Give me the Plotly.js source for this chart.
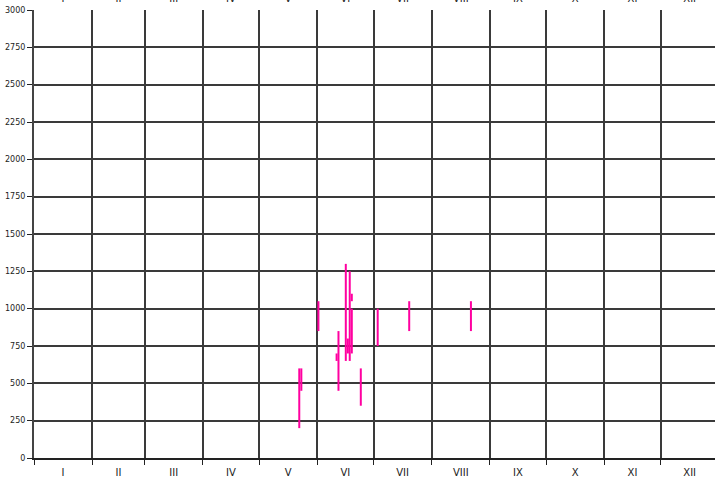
<!DOCTYPE html>
<html>
<head>
<meta charset="utf-8">
<script src="https://cdn.plot.ly/plotly-3.0.1.min.js"></script>
<style>html,body{margin:0;padding:0;background:#fff;}#chart{width:715px;height:481px;}</style>
</head>
<body>
<div id="chart"></div>
<script>
// Month boundaries (day of year, Jan 1 = 0) and labels
var monthStarts = [0, 31, 59, 90, 120, 151, 181, 212, 243, 273, 304, 334];
var monthMids = [15.5, 45, 74.5, 105, 135.5, 166, 196.5, 227.5, 258, 288.5, 319, 349.5];
var monthLabels = ["I", "II", "III", "IV", "V", "VI", "VII", "VIII", "IX", "X", "XI", "XII"];
var yTicks = [0, 250, 500, 750, 1000, 1250, 1500, 1750, 2000, 2250, 2500, 2750, 3000];

// Observation ranges: day of year, lower and upper elevation (m)
var obsDay  = [141.4, 142.5, 151.6, 161.3, 162.3, 166.2, 167.3, 168.3, 169.4, 169.4, 174.2, 183.2, 200.0, 232.9];
var obsLow  = [200,   450,   850,   650,   450,   650,   700,   650,   700,   1050,  350,   750,   850,   850];
var obsHigh = [600,   600,   1050,  700,   850,   1300,  800,   1250,  1000,  1100,  600,   1000,  1050,  1050];

var xs = [], ys = [];
for (var i = 0; i < obsDay.length; i++) {
  xs.push(obsDay[i], obsDay[i], null);
  ys.push(obsLow[i], obsHigh[i], null);
}

var xRange = [0, 363];
var data = [
  {x: xs, y: ys, type: 'scatter', mode: 'lines', line: {color: '#ff00a0', width: 2}, hoverinfo: 'skip', showlegend: false},
  {x: [null], y: [null], xaxis: 'x2', type: 'scatter', mode: 'markers', showlegend: false, hoverinfo: 'skip'},
  {x: [null], y: [null], xaxis: 'x3', type: 'scatter', mode: 'markers', showlegend: false, hoverinfo: 'skip'}
];

var layout = {
  width: 715, height: 481,
  margin: {l: 34, r: 0, t: 10, b: 23, pad: 0},
  paper_bgcolor: '#fff', plot_bgcolor: '#fff',
  font: {family: 'DejaVu Sans, sans-serif', color: '#222'},
  showlegend: false,
  xaxis: {
    range: xRange, tickmode: 'array', tickvals: monthStarts, ticktext: monthStarts.map(function(){return '';}),
    ticks: 'outside', ticklen: 5, tickwidth: 1, tickcolor: '#222',
    showgrid: true, gridcolor: '#3a3a3a', gridwidth: 2,
    showline: true, linecolor: '#222', linewidth: 2, zeroline: false, fixedrange: true
  },
  xaxis2: {
    range: xRange, overlaying: 'x', side: 'bottom', anchor: 'y',
    tickmode: 'array', tickvals: monthMids, ticktext: monthLabels,
    ticks: 'outside', ticklen: 5, tickcolor: 'rgba(0,0,0,0)',
    showgrid: false, showline: false, zeroline: false,
    tickfont: {size: 10, color: '#222'}, fixedrange: true
  },
  xaxis3: {
    range: xRange, overlaying: 'x', side: 'top', anchor: 'y',
    tickmode: 'array', tickvals: monthMids, ticktext: monthLabels,
    ticks: 'outside', ticklen: 3, tickcolor: 'rgba(0,0,0,0)',
    showgrid: false, showline: false, zeroline: false,
    tickfont: {size: 10, color: '#222'}, fixedrange: true
  },
  yaxis: {
    range: [0, 3000], tickmode: 'array', tickvals: yTicks,
    ticks: 'outside', ticklen: 5, tickcolor: '#222', tickwidth: 1,
    showgrid: true, gridcolor: '#3a3a3a', gridwidth: 2,
    showline: true, linecolor: '#444', linewidth: 2, zeroline: false,
    tickfont: {size: 8, color: '#222'}, fixedrange: true
  }
};

Plotly.newPlot('chart', data, layout, {displayModeBar: false, staticPlot: true});
</script>
</body>
</html>
